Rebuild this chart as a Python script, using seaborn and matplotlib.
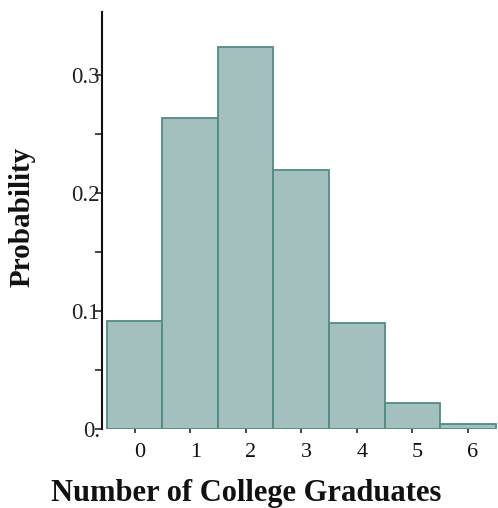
import matplotlib
matplotlib.use("Agg")
import matplotlib.pyplot as plt
import matplotlib.transforms as mtransforms
import seaborn as sns
import pandas as pd
from matplotlib.ticker import FixedLocator

graduates = [0, 1, 2, 3, 4, 5, 6]
probability = [0.0915, 0.2636, 0.3237, 0.2195, 0.0898, 0.022, 0.004]
ytick_vals = [0.0, 0.1, 0.2, 0.3]
ytick_labels = ["0.", "0.1", "0.2", "0.3"]

df = pd.DataFrame({"x": graduates, "p": probability})

sns.set_theme(style="ticks")
plt.rcParams["font.family"] = ["Liberation Serif", "DejaVu Serif"]

fig = plt.figure(figsize=(4.98, 5.08), dpi=100)
W, H = 498, 508
ax = fig.add_axes([102 / W, (H - 429) / H, (498 - 102) / W, (429 - 12) / H])

sns.barplot(data=df, x="x", y="p", ax=ax, width=1.0, color="#a3c0bf",
            saturation=1, edgecolor="#4f8c89", linewidth=1.3, native_scale=True)

ax.set_xlim(-0.59, 6.545)
ax.set_ylim(0, 0.353)
ax.set_xticks(graduates)
ax.set_xticklabels([str(g) for g in graduates], fontsize=16, color="#111111")
ax.set_yticks(ytick_vals)
ax.set_yticklabels(ytick_labels, fontsize=16.5, color="#222222")
ax.yaxis.set_minor_locator(FixedLocator([0.05, 0.15, 0.25]))
ax.tick_params(axis="y", which="major", length=5, width=1.2, direction="out", pad=-3.5)
ax.tick_params(axis="y", which="minor", length=5, width=1.2, direction="out")
ax.tick_params(axis="x", which="major", length=3, width=1.2, direction="out", pad=7)

shift = mtransforms.ScaledTranslation(5 / 100, 0, fig.dpi_scale_trans)
for lab in ax.get_xticklabels():
    lab.set_transform(lab.get_transform() + shift)

for s in ["top", "right", "bottom"]:
    ax.spines[s].set_visible(False)
ax.spines["left"].set_linewidth(1.5)
ax.spines["left"].set_color("#111111")

ax.set_xlabel("")
ax.set_ylabel("")
fig.text(246 / W, 1 - 493 / H, "Number of College Graduates", fontsize=22,
         fontweight="bold", color="#111111", ha="center", va="center")
fig.text(22 / W, 1 - 217 / H, "Probability", fontsize=21, fontweight="bold",
         color="#111111", ha="center", va="center", rotation=90)

fig.savefig("out.png", dpi=100)
